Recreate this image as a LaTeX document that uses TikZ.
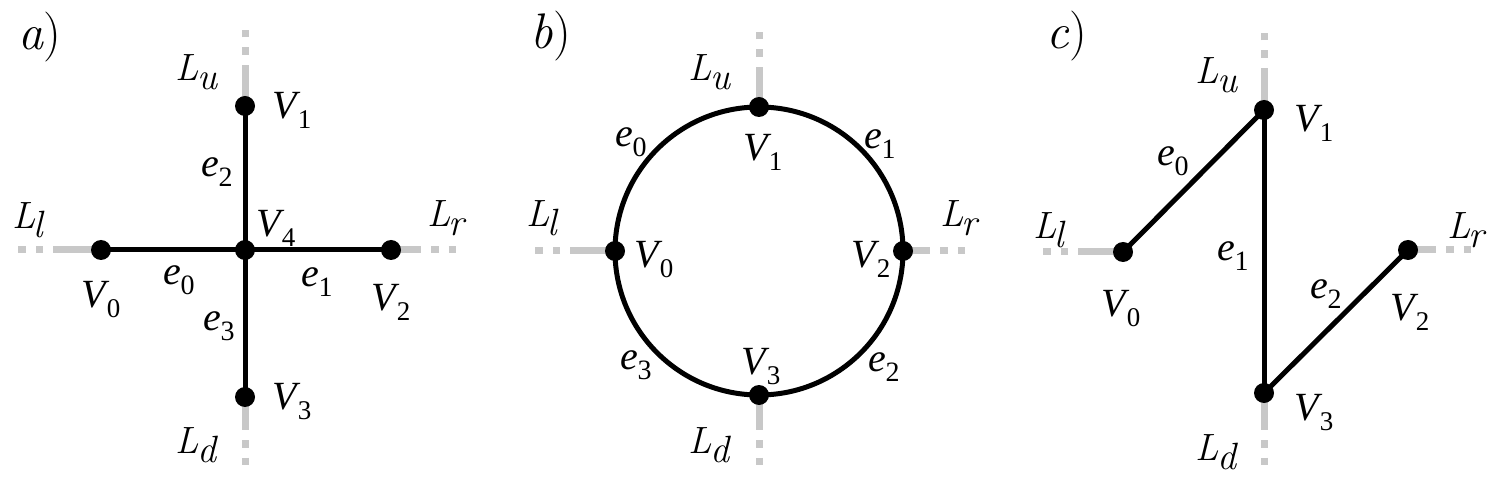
\documentclass[tikz,border=0pt]{standalone}
\usepackage{fontspec}
\usetikzlibrary{backgrounds}
\newfontfamily\cam{Liberation Serif}
\definecolor{leadgray}{RGB}{200,200,200}
\newcommand\VL[1]{{\cam\fontsize{20}{22}\selectfont\textit{V}\kern-1.5pt\raisebox{-5pt}{\fontsize{13.5}{15}\selectfont #1}}}
\newcommand\EL[1]{{\cam\fontsize{20}{22}\selectfont\textit{e}\kern-0.3pt\raisebox{-5pt}{\fontsize{14}{15}\selectfont #1}}}
\newcommand\LL[1]{{\fontsize{19}{22}\selectfont\textit{L}\kern-1pt\raisebox{-4.5pt}{\textit{#1}}}}
\newcommand\PL[1]{{\fontsize{25}{28}\selectfont\textit{#1}\/)}}
\begin{document}
\begin{tikzpicture}[x=0.5pt,y=-0.5pt,
  vtx/.style={circle,fill=black,inner sep=0pt,minimum size=10pt},
  edge/.style={line width=2.5pt,black},
  lead/.style={line width=3.5pt,leadgray,dash pattern=on #1 off 5pt on 3.75pt off 5pt on 3.75pt},
  lbl/.style={inner sep=0pt,anchor=center}]
\useasboundingbox (0,0) rectangle (1497,480);

% ---------- panel a ----------
\node[vtx] (a4) at (245,250) {};
\node[vtx] (a1) at (245,106) {};
\node[vtx] (a3) at (245,397) {};
\node[vtx] (a0) at (101,250) {};
\node[vtx] (a2) at (391,250) {};
\coordinate (au) at (245,30);
\coordinate (ad) at (245,465);
\coordinate (al) at (18,250);
\coordinate (ar) at (456,250);
\begin{scope}[on background layer]
  \draw[lead=20.5pt] (a1.center) -- (au);
  \draw[lead=16.5pt] (a3.center) -- (ad);
  \draw[lead=24pt] (a0.center) -- (al);
  \draw[lead=15pt] (a2.center) -- (ar);
  \draw[edge] (a0.center) -- (a4.center);
  \draw[edge] (a4.center) -- (a2.center);
  \draw[edge] (a1.center) -- (a4.center);
  \draw[edge] (a4.center) -- (a3.center);
\end{scope}
\node[lbl] (pa) at (40,37) {\PL{a}};
\node[lbl] (aLu) at (197,72) {\LL{u}};
\node[lbl] (aV1) at (292,110) {\VL{1}};
\node[lbl] (ae2) at (217,172) {\EL{2}};
\node[lbl] (aLl) at (29,220) {\LL{l}};
\node[lbl] (aV4) at (276,228) {\VL{4}};
\node[lbl] (aLr) at (447,218) {\LL{r}};
\node[lbl] (ae0) at (179,280) {\EL{0}};
\node[lbl] (ae1) at (317,282) {\EL{1}};
\node[lbl] (aV0) at (101,300) {\VL{0}};
\node[lbl] (aV2) at (391,302) {\VL{2}};
\node[lbl] (ae3) at (219,326) {\EL{3}};
\node[lbl] (aV3) at (292,402) {\VL{3}};
\node[lbl] (aLd) at (197,445) {\LL{d}};

% ---------- panel b ----------
\node[vtx] (b1) at (759,107) {};
\node[vtx] (b3) at (759,395) {};
\node[vtx] (b0) at (615,251) {};
\node[vtx] (b2) at (903,251) {};
\coordinate (bu) at (759,32);
\coordinate (bd) at (759,465);
\coordinate (bl) at (535,251);
\coordinate (br) at (965,251);
\begin{scope}[on background layer]
  \draw[lead=20pt] (b1.center) -- (bu);
  \draw[lead=17.5pt] (b3.center) -- (bd);
  \draw[lead=22.5pt] (b0.center) -- (bl);
  \draw[lead=13.5pt] (b2.center) -- (br);
  \draw[edge] (b0.center) arc[start angle=180,end angle=90,radius=72pt];
  \draw[edge] (b1.center) arc[start angle=90,end angle=0,radius=72pt];
  \draw[edge] (b2.center) arc[start angle=0,end angle=-90,radius=72pt];
  \draw[edge] (b3.center) arc[start angle=-90,end angle=-180,radius=72pt];
\end{scope}
\node[lbl] (pb) at (551,36) {\PL{b}};
\node[lbl] (bLu) at (710,72) {\LL{u}};
\node[lbl] (be0) at (631,142) {\EL{0}};
\node[lbl] (bV1) at (763,152) {\VL{1}};
\node[lbl] (be1) at (880,144) {\EL{1}};
\node[lbl] (bLl) at (543,218) {\LL{l}};
\node[lbl] (bV0) at (654,260) {\VL{0}};
\node[lbl] (bV2) at (871,259) {\VL{2}};
\node[lbl] (bLr) at (960,218) {\LL{r}};
\node[lbl] (be3) at (636,365) {\EL{3}};
\node[lbl] (bV3) at (761,367) {\VL{3}};
\node[lbl] (be2) at (884,367) {\EL{2}};
\node[lbl] (bLd) at (710,445) {\LL{d}};

% ---------- panel c ----------
\node[vtx] (c1) at (1264,110) {};
\node[vtx] (c3) at (1264,393) {};
\node[vtx] (c0) at (1123,252) {};
\node[vtx] (c2) at (1408,250) {};
\coordinate (cu) at (1264,33);
\coordinate (cd) at (1264,465);
\coordinate (cl) at (1043,252);
\coordinate (cr) at (1471,250);
\begin{scope}[on background layer]
  \draw[lead=21pt] (c1.center) -- (cu);
  \draw[lead=18.5pt] (c3.center) -- (cd);
  \draw[lead=22.5pt] (c0.center) -- (cl);
  \draw[lead=14pt] (c2.center) -- (cr);
  \draw[edge] (c0.center) -- (c1.center);
  \draw[edge] (c1.center) -- (c3.center);
  \draw[edge] (c3.center) -- (c2.center);
\end{scope}
\node[lbl] (pc) at (1067,36) {\PL{c}};
\node[lbl] (cLu) at (1217,75) {\LL{u}};
\node[lbl] (cV1) at (1314,123) {\VL{1}};
\node[lbl] (ce0) at (1173,161) {\EL{0}};
\node[lbl] (cLl) at (1050,230) {\LL{l}};
\node[lbl] (ce1) at (1233,256) {\EL{1}};
\node[lbl] (cLr) at (1467,230) {\LL{r}};
\node[lbl] (cV0) at (1121,309) {\VL{0}};
\node[lbl] (ce2) at (1326,294) {\EL{2}};
\node[lbl] (cV2) at (1410,312) {\VL{2}};
\node[lbl] (cV3) at (1314,413) {\VL{3}};
\node[lbl] (cLd) at (1217,452) {\LL{d}};
\end{tikzpicture}
\end{document}
